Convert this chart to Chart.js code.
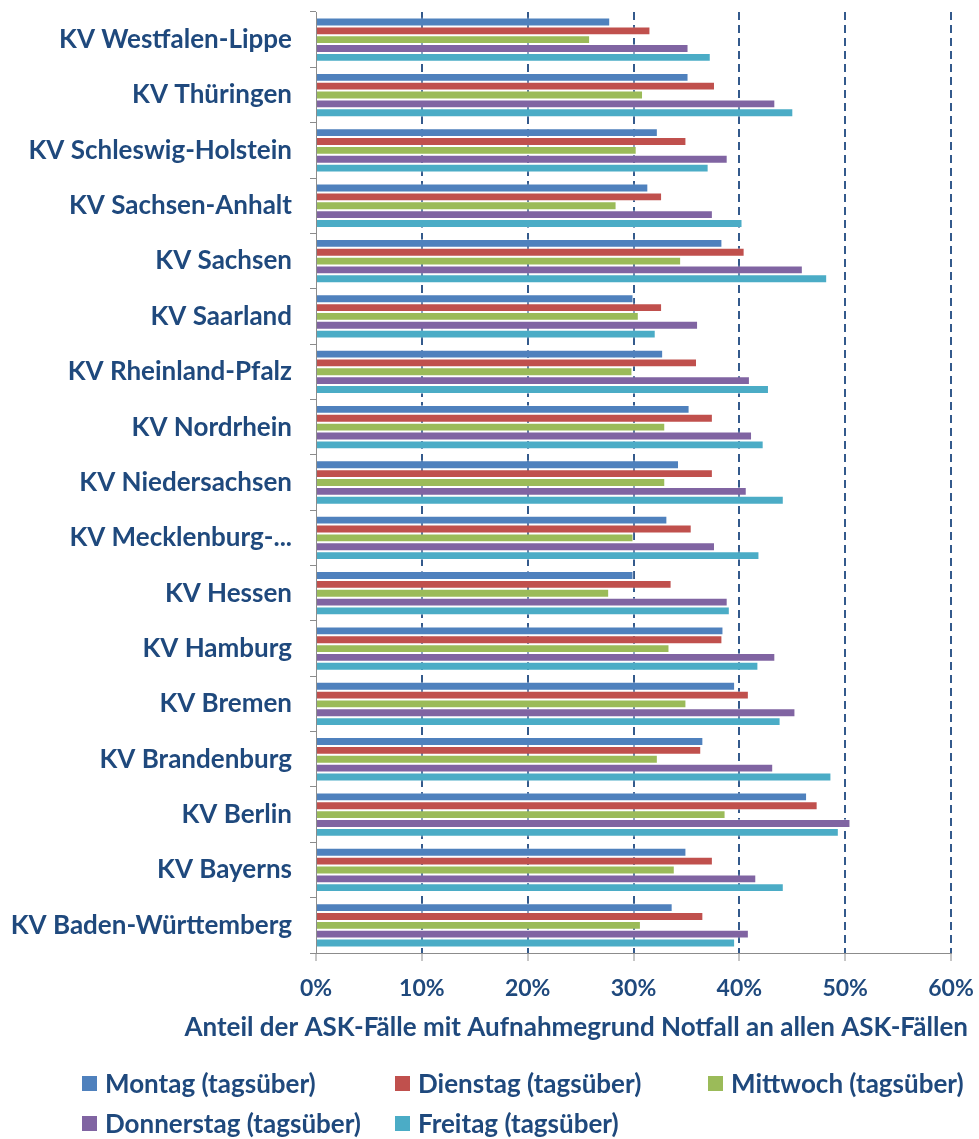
<!DOCTYPE html>
<html>
<head>
<meta charset="utf-8">
<script src="https://cdn.jsdelivr.net/npm/chart.js@4/dist/chart.umd.min.js"></script>
<style>
  body { margin: 0; background: #fff; }
  #wrap { position: relative; width: 979px; height: 1139px; }
  #legend { position: absolute; left: 0; top: 1068px; width: 979px; font-family: Lato, sans-serif; font-weight: bold; font-size: 26px; line-height: 31px; color: #1f497d; }
  .item { position: absolute; display: flex; align-items: center; white-space: nowrap; }
  .box { width: 15px; height: 15px; margin-right: 8px; }
</style>
</head>
<body>
<div id="wrap">
  <canvas id="chart" width="979" height="1139"></canvas>
  <div id="legend"></div>
</div>
<script>
const categories = [
  "KV Westfalen-Lippe", "KV Thüringen", "KV Schleswig-Holstein", "KV Sachsen-Anhalt",
  "KV Sachsen", "KV Saarland", "KV Rheinland-Pfalz", "KV Nordrhein", "KV Niedersachsen",
  "KV Mecklenburg-...", "KV Hessen", "KV Hamburg", "KV Bremen", "KV Brandenburg",
  "KV Berlin", "KV Bayerns", "KV Baden-Württemberg"
];
const seriesNames = [
  "Montag (tagsüber)", "Dienstag (tagsüber)", "Mittwoch (tagsüber)",
  "Donnerstag (tagsüber)", "Freitag (tagsüber)"
];
const montag     = [27.8, 35.2, 32.3, 31.4, 38.4, 30.0, 32.8, 35.3, 34.3, 33.2, 30.0, 38.5, 39.6, 36.6, 46.4, 35.0, 33.7];
const dienstag   = [31.6, 37.7, 35.0, 32.7, 40.5, 32.7, 36.0, 37.5, 37.5, 35.5, 33.6, 38.4, 40.9, 36.4, 47.4, 37.5, 36.6];
const mittwoch   = [25.9, 30.9, 30.3, 28.4, 34.5, 30.5, 29.9, 33.0, 33.0, 30.0, 27.7, 33.4, 35.0, 32.3, 38.7, 33.9, 30.7];
const donnerstag = [35.2, 43.4, 38.9, 37.5, 46.0, 36.1, 41.0, 41.2, 40.7, 37.7, 38.9, 43.4, 45.3, 43.2, 50.5, 41.6, 40.9];
const freitag    = [37.3, 45.1, 37.1, 40.3, 48.3, 32.1, 42.8, 42.3, 44.2, 41.9, 39.1, 41.8, 43.9, 48.7, 49.4, 44.2, 39.6];
const xTicks = [0, 10, 20, 30, 40, 50, 60];
const axisTitle = "Anteil der ASK-Fälle mit Aufnahmegrund Notfall an allen ASK-Fällen";

const colors = ["#4f81bd", "#c0504d", "#9bbb59", "#8064a2", "#4bacc6"];
const textColor = "#1f497d";
const font = { family: "Lato, sans-serif", size: 26, weight: "bold" };
const tickFont = { family: "Lato, sans-serif", size: 23, weight: "bold" };

const values = [montag, dienstag, mittwoch, donnerstag, freitag];
const datasets = values.map((data, i) => ({
  label: seriesNames[i],
  data,
  backgroundColor: colors[i],
  borderColor: "rgba(255,255,255,0.45)",
  borderWidth: 1,
  categoryPercentage: 0.8,
  barPercentage: 1.0,
}));

// the axis title is wider than the plot, so draw it ourselves (Chart.js would squeeze it)
const xTitlePlugin = {
  id: "xTitle",
  afterDraw(chart) {
    const { ctx, chartArea } = chart;
    ctx.save();
    ctx.font = `${font.weight} ${font.size}px ${font.family}`;
    ctx.fillStyle = textColor;
    ctx.textAlign = "right";
    ctx.textBaseline = "middle";
    ctx.fillText(axisTitle, chartArea.right + 17, chartArea.bottom + 75);
    ctx.restore();
  },
};

const chart = new Chart(document.getElementById("chart"), {
  type: "bar",
  data: { labels: categories, datasets },
  options: {
    indexAxis: "y",
    responsive: false,
    animation: false,
    layout: { padding: { left: 0, right: 28, top: 12, bottom: 95 } },
    plugins: { legend: { display: false }, tooltip: { enabled: false } },
    scales: {
      x: {
        min: 0,
        max: 60,
        afterBuildTicks: (scale) => { scale.ticks = xTicks.map((v) => ({ value: v })); },
        afterFit: (scale) => {
          scale.height = 91;
          scale.paddingLeft = 0;
          scale.paddingRight = 0;
        },
        ticks: { color: textColor, font: tickFont, padding: 14, callback: (v) => v + "%" },
        grid: {
          color: (ctx) => (ctx.tick && ctx.tick.value === 0 ? "rgba(0,0,0,0)" : "#345a8c"),
          lineWidth: 2,
          tickColor: "#8c8c8c",
          tickBorderDash: [],
          tickLength: 8,
          tickWidth: 1,
        },
        border: { color: "#8c8c8c", width: 1, dash: [8, 5] },
      },
      y: {
        afterFit: (scale) => {
          scale.width = 316;
          scale.paddingTop = 0;
          scale.paddingBottom = 0;
        },
        ticks: { color: textColor, font, padding: 18, autoSkip: false },
        grid: { drawOnChartArea: false, tickLength: 6, color: "#8c8c8c" },
        border: { color: "#8c8c8c", width: 1 },
      },
    },
  },
  plugins: [xTitlePlugin],
});

// legend laid out in a fixed grid like the original
const legendPos = [[82, 0], [395, 0], [708, 0], [82, 40], [395, 40]];
const legend = document.getElementById("legend");
chart.data.datasets.forEach((ds, i) => {
  const item = document.createElement("div");
  item.className = "item";
  item.style.left = legendPos[i][0] + "px";
  item.style.top = legendPos[i][1] + "px";
  item.innerHTML = `<span class="box" style="background:${ds.backgroundColor}"></span><span>${ds.label}</span>`;
  legend.appendChild(item);
});
</script>
</body>
</html>
